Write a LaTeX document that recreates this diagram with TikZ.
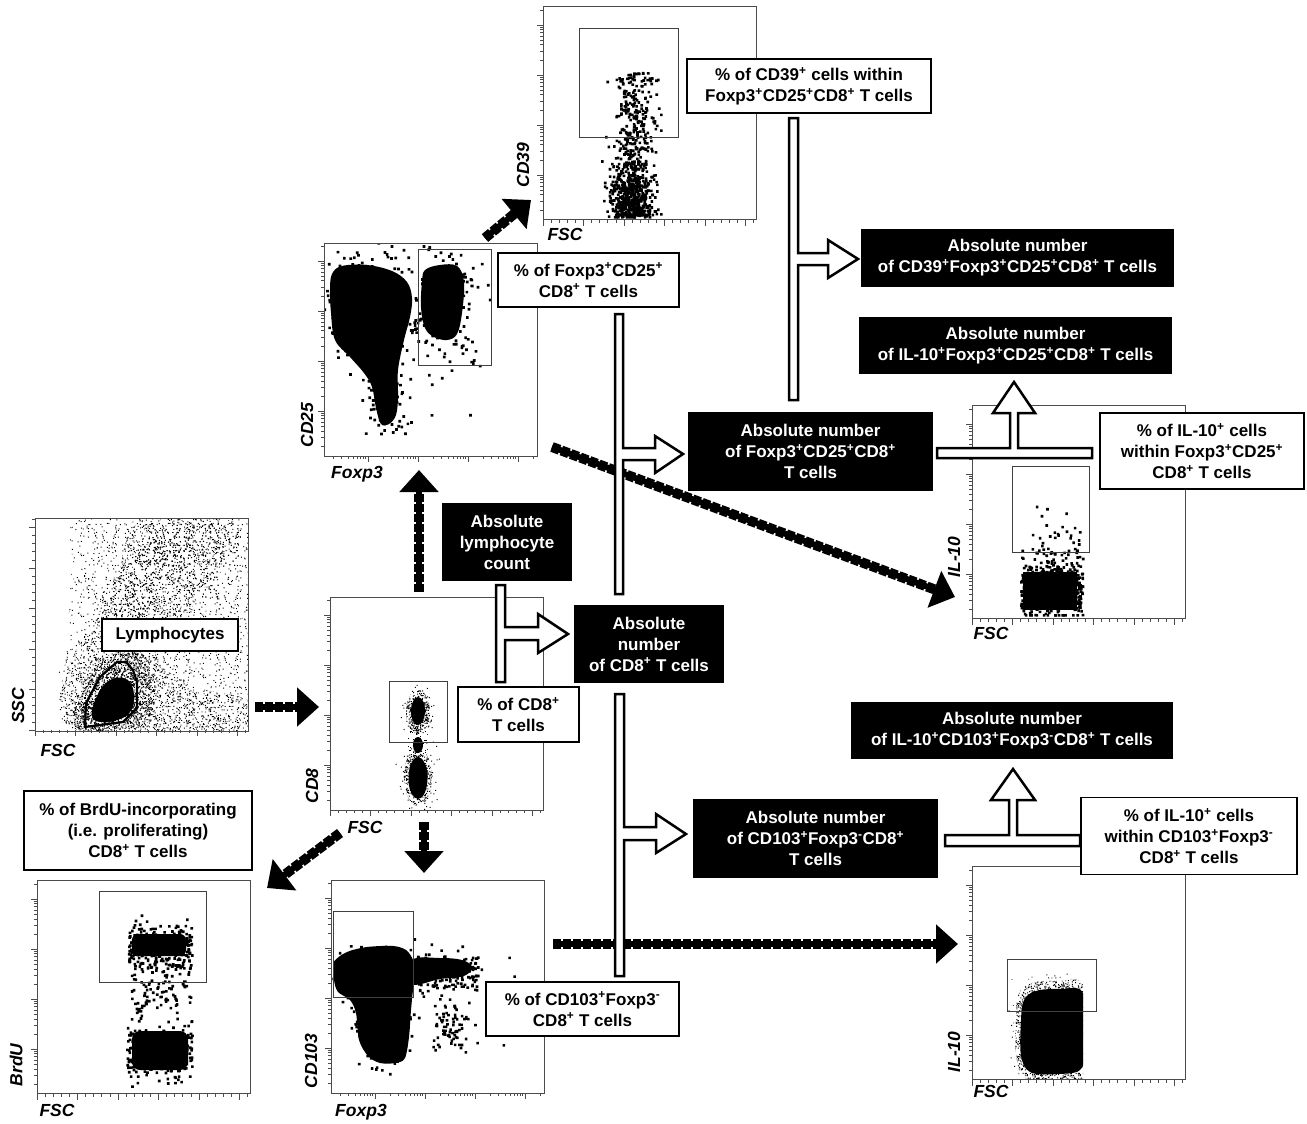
\documentclass[tikz,border=0pt]{standalone}
\usepackage{fontspec}
\setmainfont{Liberation Sans}
\usetikzlibrary{arrows.meta,patterns}
\newcommand\sP{\textsuperscript{+}}
\newcommand\sM{\textsuperscript{-}}
\pgfmathdeclarefunction{gs}{0}{\pgfmathparse{(rnd+rnd+rnd+rnd-2)*1.732}}
\pgfmathsetseed{3}
\newcommand\mkpat[3]{\pgfdeclarepatternformonly{#1}{\pgfpointorigin}{\pgfpoint{#2pt}{#2pt}}{\pgfpoint{#2pt}{#2pt}}{\foreach \iq in {1,...,#3}{\pgfpathrectangle{\pgfpoint{(#2-1)*rnd}{(#2-1)*rnd}}{\pgfpoint{1pt}{1pt}}\pgfusepath{fill}}}}
\mkpat{dotsS}{61}{150}
\mkpat{dotsM}{59}{320}
\mkpat{dotsD}{53}{650}
\tikzset{
  lbl/.style={font=\bfseries\fontsize{17}{21}\selectfont, align=center, inner sep=0pt},
  wbox/.style={lbl, draw=black, line width=1.4pt, fill=white, text=black},
  bbox/.style={lbl, draw=black, line width=1.4pt, fill=black, text=white},
  axl/.style={font=\bfseries\itshape\fontsize{17.5}{20}\selectfont, inner sep=0pt},
  frm/.style={draw=black!70, line width=1pt, minimum width=213pt, minimum height=213pt, inner sep=0pt, anchor=north west},
  tck/.style={draw=black!70, line width=0.8pt},
  gate/.style={draw=black!75, line width=1pt},
  brk/.style={draw=black, line width=2.5pt, fill=white, line join=miter},
  dcore/.style={line width=6pt, -{Triangle[length=22pt,width=38pt]}},
  dedge/.style={line width=10pt, dash pattern=on 8pt off 2pt, shorten >=18pt},
}
% scatter: #1 chunks, #2 points per chunk, #3 x expr, #4 y expr, #5 size
\newcommand\scat[5]{\foreach \cq in {1,...,#1}{\fill foreach \iq in {1,...,#2}{({#3},{#4}) rectangle ++(#5,#5)};}}
% log ticks on the left axis: #1 x, #2 top y, #3 bottom y
\newcommand\ltY[3]{%
  \foreach \dq in {-1,...,3}{%
    \foreach \mq in {1,...,9}{%
      \pgfmathsetmacro\yq{#3-45-\dq*50-50*log10(\mq)}%
      \pgfmathsetmacro\tkl{ifthenelse(\mq==1,6,3)}%
      \ifdim\yq pt>#2pt\relax\ifdim\yq pt<#3pt\relax
        \draw[tck] (#1,\yq) -- ++(-\tkl,0);%
      \fi\fi}}}
% log ticks on the bottom axis: #1 left x, #2 right x, #3 y
\newcommand\ltX[3]{%
  \foreach \dq in {-1,...,3}{%
    \foreach \mq in {1,...,9}{%
      \pgfmathsetmacro\xq{#1+44+\dq*50+50*log10(\mq)}%
      \pgfmathsetmacro\tkl{ifthenelse(\mq==1,6,3)}%
      \ifdim\xq pt>#1pt\relax\ifdim\xq pt<#2pt\relax
        \draw[tck] (\xq,#3) -- ++(0,\tkl);%
      \fi\fi}}}
% linear ticks bottom: #1 left x, #2 y
\newcommand\linX[2]{%
  \foreach \kq in {0,...,26}{%
    \pgfmathsetmacro\xq{#1+\kq*8.1}%
    \pgfmathsetmacro\tkl{ifthenelse(mod(\kq,5)==0,6,3)}%
    \draw[tck] (\xq,#2) -- ++(0,\tkl);}}
% linear ticks left: #1 x, #2 bottom y
\newcommand\linY[2]{%
  \foreach \kq in {0,...,26}{%
    \pgfmathsetmacro\yq{#2-\kq*8.1}%
    \pgfmathsetmacro\tkl{ifthenelse(mod(\kq,5)==0,6,3)}%
    \draw[tck] (#1,\yq) -- ++(-\tkl,0);}}
\begin{document}
\begin{tikzpicture}[x=1pt,y=-1pt]
\useasboundingbox (0,0) rectangle (1307,1124);
\pgfmathsetseed{7}

%================ P1 : SSC / FSC =================
\begin{scope}
\clip (35,518) rectangle (248,730);
\fill[pattern=dotsS] plot[smooth cycle, tension=0.4] coordinates {(70,728) (68,640) (72,560) (80,520) (248,520) (248,728)};
\fill[pattern=dotsM] plot[smooth cycle, tension=0.5] coordinates {(70,728) (70,665) (95,620) (118,575) (138,524) (235,522) (222,560) (190,610) (158,660) (200,688) (248,700) (248,728)};
\fill[pattern=dotsM] plot[smooth cycle, tension=0.5] coordinates {(100,600) (130,560) (160,530) (190,540) (160,590) (130,630)};
\fill[pattern=dotsS] plot[smooth cycle, tension=0.5] coordinates {(150,530) (200,522) (240,530) (230,580) (200,600) (170,580)};
\fill[pattern=dotsD] plot[smooth cycle, tension=0.6] coordinates {(76,728) (80,690) (98,664) (125,648) (148,660) (155,695) (148,722) (120,729)};
\fill[pattern=dotsD] plot[smooth cycle, tension=0.6] coordinates {(84,724) (88,698) (104,676) (126,668) (140,685) (138,712) (118,724)};
\fill plot[smooth cycle, tension=0.7] coordinates {(92,716) (98,694) (112,679) (129,681) (134,700) (126,716) (104,722)};
\begin{scope}[shift={(80,715)}, rotate=48.4]
\scat{3}{100}{241*rnd}{25*gs}{0.9}
\end{scope}
\scat{2}{100}{68+180*rnd}{520+210*rnd}{0.9}
\scat{1}{100}{75+170*(0.001+rnd)^1.3}{705+12*gs}{0.9}
\end{scope}
\node[frm] (pA) at (35,518) {};
\linY{35}{730}\linX{35}{730}
\draw[black, line width=2.2pt, line join=round] (86,703)--(100,677)--(117,662)--(126,662)--(133,670)--(137,682)--(137,708)--(123,722)--(100,725)--(85,727)--cycle;
\node[axl, rotate=90] (aSSC) at (18,706) {SSC};
\node[axl] (aFSC1) at (58,750) {FSC};

%================ P2 : CD8 / FSC =================
\begin{scope}
\clip (330,597) rectangle (543,810);
\fill[pattern=dotsD] (418,712) ellipse [x radius=12, y radius=22];
\fill[pattern=dotsM] (418,742) ellipse [x radius=11, y radius=16];
\fill[pattern=dotsD] (418,777) ellipse [x radius=14, y radius=29];
\fill (418,711) ellipse [x radius=7, y radius=14];
\fill (418,745) ellipse [x radius=5, y radius=8];
\fill (418,778) ellipse [x radius=9.5, y radius=21];
\scat{2}{100}{418+7*gs}{712+11*gs}{1}
\scat{2}{100}{418+8*gs}{777+15*gs}{1}
\end{scope}
\node[frm] (pB) at (330,597) {};
\ltY{330}{597}{810}\linX{330}{810}
\draw[gate] (389,681) rectangle (447,742);
\node[axl, rotate=90] (aCD8) at (312,786) {CD8};
\node[axl] (aFSC2) at (365,827) {FSC};

%================ P3 : CD25 / Foxp3 =================
\begin{scope}
\clip (324,243) rectangle (537,456);
\fill plot[smooth cycle, tension=0.6] coordinates {(332,274) (342,266) (367,265) (392,271) (407,282) (412,298) (410,317) (404,340) (398,370) (398,397) (396,415) (389,424) (381,424) (376,408) (372,387) (364,373) (350,357) (335,340) (331,313) (330,290)};
\fill plot[smooth cycle, tension=0.6] coordinates {(425,270) (440,265) (457,266) (464,282) (462,313) (457,334) (447,340) (434,337) (425,328) (421,307) (422,282)};
\scat{3}{100}{368+24*gs}{302+27*gs}{2.7}
\scat{1}{80}{386+11*gs}{400+20*gs}{2.7}
\scat{2}{80}{443+16*gs}{300+28*gs}{2.7}
\scat{1}{25}{330+150*rnd}{250+190*rnd}{2.7}
\end{scope}
\node[frm] (pC) at (324,243) {};
\ltY{324}{243}{456}\ltX{324}{537}{456}
\draw[gate] (418,249) rectangle (491,365);
\node[axl, rotate=90] (aCD25) at (307,425) {CD25};
\node[axl] (aFox1) at (357,474) {Foxp3};

%================ P4 : CD39 / FSC =================
\begin{scope}
\clip (543,6) rectangle (756,220);
\scat{6}{95}{min(max(633+10*gs,603),660)}{214-142*(0.001+rnd)^1.6}{2.6}
\scat{3}{90}{min(max(629+10*gs,601),660)}{min(190+16*gs,216)}{2.6}
\end{scope}
\node[frm] (pD) at (543,6) {};
\ltY{543}{6}{220}\linX{543}{220}
\draw[gate] (579,29) rectangle (678,137);
\node[axl, rotate=90] (aCD39) at (523,165) {CD39};
\node[axl] (aFSC3) at (565,234) {FSC};

%================ P5 : IL-10 / FSC (top) =================
\begin{scope}
\clip (972,405) rectangle (1185,619);
\fill (1023,572) rectangle (1077,610);
\scat{5}{100}{1020+62*rnd}{min(587+14*gs,614)}{2.6}
\scat{1}{40}{1030+50*rnd}{500+55*(0.001+rnd)^0.5}{2.6}
\end{scope}
\node[frm] (pE) at (972,405) {};
\ltY{972}{405}{619}\linX{972}{619}
\draw[gate] (1012,466) rectangle (1089,552);
\node[axl, rotate=90] (aIL1) at (954,557) {IL-10};
\node[axl] (aFSC4) at (991,633) {FSC};

%================ P6 : BrdU / FSC =================
\begin{scope}
\clip (37,880) rectangle (249,1094);
\fill[rounded corners=6pt] (132,934) rectangle (186,956);
\fill[rounded corners=8pt] (132,1031) rectangle (188,1070);
\scat{3}{100}{127+64*rnd}{945+11*gs}{2.6}
\scat{1}{100}{130+60*rnd}{962+50*rnd}{2.6}
\scat{3}{100}{126+66*rnd}{1050+14*gs}{2.6}
\end{scope}
\node[frm] (pF) at (37,880) {};
\ltY{37}{880}{1094}\linX{37}{1094}
\draw[gate] (99,891) rectangle (206,982);
\node[axl, rotate=90] (aBrdU) at (16,1065) {BrdU};
\node[axl] (aFSC5) at (57,1110) {FSC};

%================ P7 : CD103 / Foxp3 =================
\begin{scope}
\clip (331,880) rectangle (543,1093);
\fill plot[smooth cycle, tension=0.5] coordinates {(334,962) (347,952) (367,947) (393,946) (406,950) (413,960) (415,975) (413,990) (411,1010) (409,1037) (405,1058) (396,1063) (380,1063) (368,1056) (359,1040) (356,1013) (350,1000) (338,992) (334,980)};
\fill plot[smooth cycle, tension=0.6] coordinates {(412,960) (440,958) (462,960) (472,967) (464,976) (440,979) (412,984)};
\scat{2}{90}{372+20*gs}{972+13*gs}{2.6}
\scat{1}{110}{383+14*gs}{1030+20*gs}{2.6}
\scat{2}{90}{415+62*rnd}{969+10*gs}{2.6}
\scat{1}{70}{452+10*gs}{1025+13*gs}{2.6}
\scat{1}{30}{340+180*rnd}{940+110*rnd}{2.6}
\end{scope}
\node[frm] (pG) at (331,880) {};
\ltY{331}{880}{1093}\ltX{331}{543}{1093}
\draw[gate] (333,911) rectangle (413,997);
\node[axl, rotate=90] (aCD103) at (311,1061) {CD103};
\node[axl] (aFox2) at (361,1112) {Foxp3};

%================ P8 : IL-10 / FSC (bottom) =================
\begin{scope}
\clip (972,866) rectangle (1083,1079);
\fill[pattern=dotsD] plot[smooth cycle, tension=0.6] coordinates {(1018,995) (1032,983) (1060,981) (1083,985) (1083,1040) (1083,1078) (1055,1079) (1025,1078) (1016,1055) (1016,1020)};
\fill plot[smooth cycle, tension=0.6] coordinates {(1024,1000) (1036,991) (1060,989) (1083,993) (1083,1040) (1081,1069) (1055,1074) (1030,1072) (1021,1055) (1021,1020)};
\scat{4}{100}{1051+18*gs}{1030+25*gs}{0.9}
\end{scope}
\node[frm] (pH) at (972,866) {};
\ltY{972}{866}{1080}\linX{972}{1080}
\draw[gate] (1007,959) rectangle (1096,1011);
\node[axl, rotate=90] (aIL2) at (954,1052) {IL-10};
\node[axl] (aFSC6) at (991,1091) {FSC};

%================ dashed gating arrows =================
\coordinate (s1) at (255,707); \coordinate (e1) at (319,707);
\coordinate (s2) at (419,592); \coordinate (e2) at (419,470);
\coordinate (s3) at (424,822); \coordinate (e3) at (424,873);
\coordinate (s4) at (340,833); \coordinate (e4) at (267,888);
\coordinate (s5) at (485,238); \coordinate (e5) at (531,200);
\coordinate (s6) at (552,447); \coordinate (e6) at (955,597);
\coordinate (s7) at (553,944); \coordinate (e7) at (958,944);
\foreach \a in {1,...,7}{
  \draw[dedge] (s\a) -- (e\a);
  \draw[dcore] (s\a) -- (e\a);
}

%================ bracket arrows =================
\draw[brk] (789,118)--(798,118)--(798,253)--(828,253)--(828,240)--(858,259)--(828,278)--(828,265)--(798,265)--(798,400)--(789,400)--cycle;
\draw[brk] (615,314)--(623,314)--(623,448)--(655,448)--(655,436)--(683,454)--(655,473)--(655,460)--(623,460)--(623,594)--(615,594)--cycle;
\draw[brk] (496,585)--(505,585)--(505,627)--(538,627)--(538,614)--(568,634)--(538,653)--(538,640)--(505,640)--(505,682)--(496,682)--cycle;
\draw[brk] (615,694)--(624,694)--(624,827)--(656,827)--(656,814)--(686,834)--(656,853)--(656,840)--(624,840)--(624,976)--(615,976)--cycle;
\draw[brk] (937,458)--(1092,458)--(1092,448)--(1018,448)--(1018,413)--(1035,413)--(1014,382)--(993,413)--(1010,413)--(1010,448)--(937,448)--cycle;
\draw[brk] (945,846)--(1080,846)--(1080,835)--(1017,835)--(1017,800)--(1035,800)--(1013,769)--(991,800)--(1009,800)--(1009,835)--(945,835)--cycle;

%================ text boxes =================
\node[wbox, minimum width=136pt, minimum height=32pt] (lym) at (170,635) {Lymphocytes};
\node[wbox, minimum width=244pt, minimum height=54pt] (pct39) at (809,86) {\% of CD39\sP{} cells within\\Foxp3\sP{}CD25\sP{}CD8\sP{} T cells};
\node[wbox, minimum width=181pt, minimum height=54pt] (pctFC) at (588.5,280) {\% of Foxp3\sP{}CD25\sP\\CD8\sP{} T cells};
\node[bbox, minimum width=311pt, minimum height=56pt] (abs39) at (1017.5,258) {Absolute number\\of CD39\sP{}Foxp3\sP{}CD25\sP{}CD8\sP{} T cells};
\node[bbox, minimum width=311pt, minimum height=55pt] (absIL1) at (1015.5,345.5) {Absolute number\\of IL-10\sP{}Foxp3\sP{}CD25\sP{}CD8\sP{} T cells};
\node[bbox, minimum width=243pt, minimum height=77pt] (absFC) at (810.5,451.5) {Absolute number\\of Foxp3\sP{}CD25\sP{}CD8\sP\\T cells};
\node[wbox, minimum width=204pt, minimum height=76pt] (pctIL1) at (1202,451) {\% of IL-10\sP{} cells\\within Foxp3\sP{}CD25\sP\\CD8\sP{} T cells};
\node[bbox, minimum width=128pt, minimum height=76pt] (absLy) at (507,542) {Absolute\\lymphocyte\\count};
\node[bbox, minimum width=148pt, minimum height=76pt] (abs8) at (649,644) {Absolute\\number\\of CD8\sP{} T cells};
\node[wbox, minimum width=121pt, minimum height=55pt] (pct8) at (518.5,714.5) {\% of CD8\sP\\T cells};
\node[bbox, minimum width=320pt, minimum height=55pt] (absIL2) at (1012,730.5) {Absolute number\\of IL-10\sP{}CD103\sP{}Foxp3\sM{}CD8\sP{} T cells};
\node[bbox, minimum width=243pt, minimum height=77pt] (abs103) at (815.5,838.5) {Absolute number\\of CD103\sP{}Foxp3\sM{}CD8\sP\\T cells};
\node[wbox, minimum width=216pt, minimum height=77pt] (pctIL2) at (1189,836) {\% of IL-10\sP{} cells\\within CD103\sP{}Foxp3\sM\\CD8\sP{} T cells};
\node[wbox, minimum width=193pt, minimum height=54pt] (pct103) at (582.5,1009) {\% of CD103\sP{}Foxp3\sM\\CD8\sP{} T cells};
\node[wbox, minimum width=228pt, minimum height=79pt] (pctBrdU) at (138,830.5) {\% of BrdU-incorporating\\(i.e. proliferating)\\CD8\sP{} T cells};
\end{tikzpicture}
\end{document}
